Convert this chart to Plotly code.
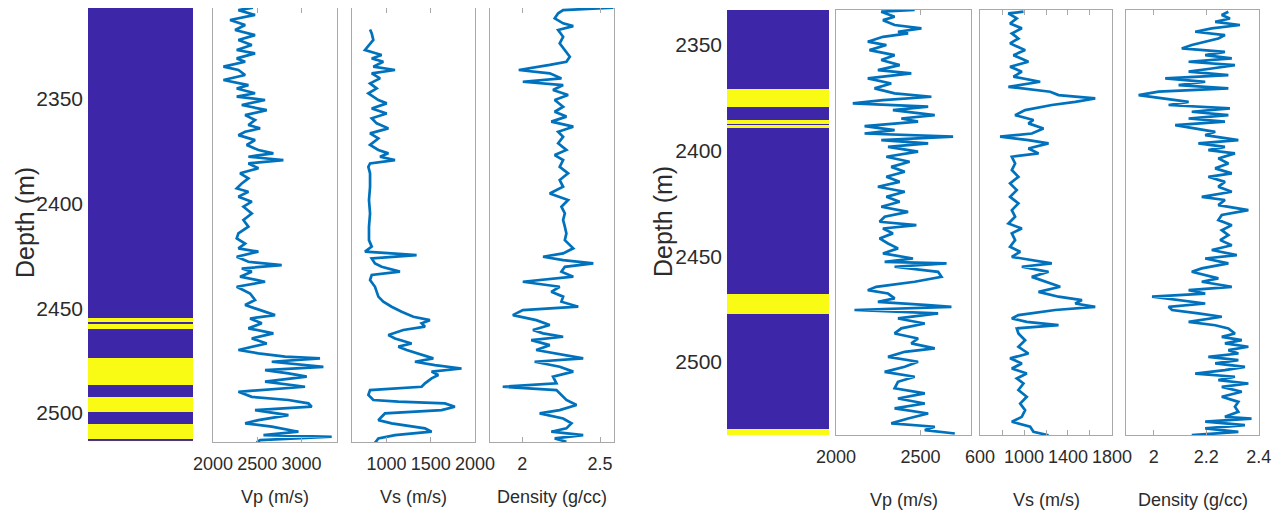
import plotly.graph_objects as go

# ---------------- data ----------------
# Facies columns: interval edges (depth, m) and facies code (0 = shale/blue, 1 = sand/yellow)
LEFT_FACIES_EDGES = [2306.2, 2454.6, 2456.5, 2457.4, 2459.8, 2473.6, 2486.5, 2492.2, 2499.3, 2505.0, 2512.2, 2513.3]
LEFT_FACIES_CODES = [0, 1, 0, 1, 0, 1, 0, 1, 0, 1, 0]
RIGHT_FACIES_EDGES = [2333.4, 2370.6, 2379.4, 2385.7, 2387.2, 2388.0, 2389.3, 2467.8, 2477.3, 2531.8, 2534.7]
RIGHT_FACIES_CODES = [0, 1, 0, 1, 0, 1, 0, 1, 0, 1]

# Logs as (depth m, value)
LEFT_VP = [(2306.5, 2450), (2307.7, 2286), (2310.0, 2474), (2312.4, 2192), (2314.8, 2362), (2317.2, 2249), (2319.6, 2474), (2321.9, 2286), (2324.3, 2437), (2326.7, 2267), (2328.3, 2474), (2330.7, 2267), (2332.3, 2362), (2334.6, 2117), (2336.2, 2286), (2338.6, 2362), (2341.0, 2117), (2343.4, 2399), (2345.0, 2267), (2347.3, 2474), (2348.9, 2267), (2350.5, 2587), (2352.9, 2324), (2355.3, 2606), (2357.7, 2362), (2360.0, 2474), (2362.4, 2399), (2364.0, 2531), (2365.6, 2362), (2367.2, 2286), (2369.6, 2474), (2371.9, 2380), (2374.3, 2512), (2375.9, 2681), (2377.5, 2399), (2379.1, 2794), (2380.7, 2399), (2383.0, 2512), (2385.4, 2305), (2387.8, 2399), (2390.2, 2324), (2392.6, 2267), (2394.2, 2399), (2396.5, 2286), (2398.9, 2437), (2401.3, 2343), (2404.5, 2437), (2407.6, 2343), (2410.8, 2399), (2414.0, 2286), (2416.4, 2267), (2418.8, 2362), (2421.1, 2286), (2422.7, 2512), (2425.1, 2267), (2427.5, 2399), (2429.1, 2775), (2430.7, 2324), (2432.2, 2437), (2434.6, 2305), (2437.0, 2587), (2439.4, 2267), (2442.6, 2418), (2445.7, 2474), (2448.1, 2362), (2450.5, 2531), (2452.9, 2700), (2454.5, 2418), (2456.8, 2550), (2459.2, 2399), (2461.6, 2681), (2464.0, 2437), (2466.4, 2606), (2469.5, 2286), (2471.1, 2512), (2472.7, 2813), (2473.5, 3208), (2475.1, 2663), (2477.5, 3246), (2479.1, 2587), (2480.6, 2851), (2482.2, 3058), (2484.6, 2587), (2487.0, 3039), (2489.4, 2286), (2491.8, 2437), (2493.3, 2851), (2494.9, 3077), (2496.5, 3114), (2498.1, 2474), (2500.5, 2851), (2502.9, 2512), (2504.4, 2362), (2506.0, 2663), (2508.4, 2964), (2510.0, 2569), (2510.8, 3340), (2512.4, 2531), (2513.5, 2493)]

LEFT_VS = [(2316.9, 814), (2318.8, 833), (2321.9, 851), (2326.7, 757), (2329.1, 945), (2330.7, 833), (2332.3, 964), (2334.6, 851), (2336.2, 1096), (2337.8, 833), (2340.2, 927), (2342.6, 814), (2345.0, 889), (2347.3, 795), (2350.5, 908), (2352.1, 1002), (2354.5, 833), (2356.9, 1002), (2359.2, 833), (2361.6, 889), (2364.0, 1021), (2366.4, 814), (2368.8, 908), (2371.9, 814), (2374.3, 908), (2375.9, 1021), (2377.5, 927), (2379.1, 1096), (2380.7, 814), (2382.3, 795), (2385.4, 814), (2391.8, 814), (2398.1, 802), (2404.5, 814), (2410.8, 802), (2417.2, 802), (2420.3, 833), (2422.7, 757), (2423.5, 1058), (2424.3, 1340), (2425.9, 833), (2428.3, 870), (2429.9, 945), (2432.2, 1152), (2433.8, 833), (2436.2, 814), (2439.4, 870), (2441.8, 889), (2444.1, 908), (2446.5, 964), (2448.9, 1058), (2451.3, 1171), (2453.7, 1303), (2455.3, 1491), (2456.8, 1397), (2458.4, 1435), (2460.0, 1190), (2462.4, 1021), (2464.0, 1096), (2466.4, 1284), (2467.9, 1134), (2469.5, 1228), (2471.1, 1359), (2473.5, 1529), (2475.1, 1322), (2476.7, 1547), (2478.3, 1848), (2479.8, 1510), (2481.4, 1585), (2483.0, 1510), (2485.4, 1435), (2487.0, 1397), (2488.6, 814), (2490.9, 795), (2493.3, 851), (2494.1, 1134), (2494.9, 1660), (2496.5, 1773), (2498.1, 1623), (2499.7, 983), (2501.3, 945), (2502.9, 908), (2504.4, 1058), (2506.8, 1435), (2508.4, 1510), (2510.0, 1096), (2511.6, 908), (2513.7, 870)]

LEFT_DEN = [(2306.5, 2.586), (2307.7, 2.263), (2309.2, 2.231), (2311.6, 2.209), (2314.0, 2.263), (2315.3, 2.328), (2317.2, 2.231), (2320.4, 2.263), (2323.5, 2.241), (2326.7, 2.274), (2329.9, 2.306), (2332.3, 2.284), (2333.8, 2.177), (2336.2, 1.978), (2337.8, 2.177), (2340.2, 2.252), (2341.8, 2.004), (2343.4, 2.263), (2345.7, 2.198), (2348.1, 2.295), (2350.5, 2.209), (2353.7, 2.263), (2356.1, 2.209), (2358.4, 2.284), (2360.8, 2.187), (2363.2, 2.328), (2365.6, 2.231), (2368.0, 2.263), (2371.1, 2.231), (2374.3, 2.284), (2376.7, 2.209), (2379.1, 2.263), (2382.3, 2.241), (2385.4, 2.295), (2388.6, 2.241), (2391.8, 2.263), (2395.0, 2.177), (2398.1, 2.295), (2401.3, 2.252), (2404.5, 2.274), (2407.6, 2.263), (2410.8, 2.274), (2414.0, 2.284), (2417.2, 2.274), (2421.1, 2.328), (2423.5, 2.263), (2425.1, 2.134), (2426.7, 2.263), (2428.3, 2.457), (2429.9, 2.274), (2432.2, 2.252), (2434.6, 2.328), (2437.0, 2.004), (2439.4, 2.241), (2441.8, 2.187), (2444.1, 2.263), (2446.5, 2.252), (2448.9, 2.360), (2450.5, 2.004), (2452.9, 1.940), (2455.3, 2.090), (2457.6, 2.177), (2460.0, 2.069), (2461.6, 2.134), (2463.2, 2.263), (2464.8, 2.058), (2467.2, 2.177), (2469.5, 2.090), (2471.9, 2.263), (2473.5, 2.392), (2475.1, 2.080), (2477.5, 2.241), (2479.8, 2.328), (2482.2, 2.198), (2485.4, 2.220), (2487.0, 1.875), (2488.6, 2.220), (2490.9, 2.252), (2493.3, 2.284), (2495.7, 2.349), (2498.1, 2.241), (2499.7, 2.112), (2502.1, 2.263), (2504.4, 2.317), (2506.8, 2.284), (2508.4, 2.187), (2510.0, 2.392), (2511.6, 2.209), (2513.2, 2.284)]

RIGHT_VP = [(2333.4, 2466), (2334.2, 2268), (2336.6, 2347), (2338.2, 2278), (2340.5, 2347), (2342.1, 2506), (2343.7, 2367), (2344.5, 2427), (2346.1, 2278), (2348.4, 2188), (2350.0, 2298), (2352.4, 2198), (2354.8, 2347), (2357.1, 2268), (2359.5, 2377), (2361.9, 2248), (2363.4, 2446), (2365.8, 2188), (2368.2, 2327), (2370.5, 2228), (2372.9, 2347), (2374.5, 2565), (2376.1, 2278), (2377.6, 2099), (2379.2, 2546), (2380.8, 2337), (2383.2, 2585), (2384.8, 2387), (2386.3, 2486), (2388.4, 2169), (2390.3, 2347), (2391.9, 2169), (2393.4, 2694), (2395.0, 2268), (2396.6, 2546), (2398.2, 2308), (2400.5, 2486), (2402.9, 2298), (2405.3, 2436), (2407.7, 2327), (2410.0, 2407), (2412.4, 2298), (2414.8, 2377), (2417.1, 2248), (2419.5, 2407), (2421.9, 2298), (2424.2, 2377), (2426.6, 2268), (2429.0, 2427), (2431.3, 2288), (2433.7, 2258), (2435.3, 2476), (2436.9, 2278), (2439.2, 2337), (2441.6, 2258), (2444.0, 2308), (2446.3, 2367), (2448.7, 2278), (2451.1, 2456), (2452.7, 2288), (2453.4, 2655), (2455.0, 2347), (2457.4, 2605), (2459.8, 2625), (2462.1, 2466), (2464.5, 2238), (2466.1, 2188), (2467.7, 2308), (2470.0, 2347), (2471.6, 2248), (2473.2, 2546), (2474.0, 2684), (2475.5, 2109), (2477.1, 2605), (2479.5, 2367), (2481.9, 2526), (2484.2, 2387), (2486.6, 2347), (2489.0, 2486), (2491.3, 2446), (2493.7, 2585), (2495.3, 2407), (2497.7, 2308), (2500.0, 2486), (2502.4, 2407), (2504.8, 2288), (2507.1, 2466), (2509.5, 2367), (2512.6, 2347), (2515.0, 2526), (2517.4, 2367), (2519.8, 2526), (2522.1, 2347), (2524.5, 2546), (2526.9, 2427), (2529.2, 2327), (2530.8, 2585), (2532.4, 2526), (2534.0, 2704)]

RIGHT_VS = [(2334.2, 995), (2335.0, 858), (2337.4, 934), (2339.8, 873), (2342.1, 980), (2344.5, 889), (2346.9, 949), (2349.2, 873), (2352.4, 1010), (2354.8, 904), (2357.9, 1040), (2360.3, 873), (2362.6, 980), (2365.0, 904), (2367.4, 1147), (2369.8, 858), (2372.1, 1238), (2373.7, 1314), (2375.3, 1648), (2376.9, 1466), (2378.4, 1253), (2380.8, 1010), (2383.2, 919), (2385.5, 1086), (2387.1, 1040), (2389.5, 1177), (2391.9, 1071), (2393.4, 782), (2395.0, 1040), (2396.6, 1223), (2399.0, 1040), (2401.3, 1132), (2402.9, 889), (2406.1, 919), (2409.2, 889), (2412.4, 949), (2415.5, 873), (2418.7, 934), (2421.9, 873), (2425.0, 949), (2428.2, 889), (2431.3, 919), (2434.5, 858), (2436.9, 980), (2439.2, 889), (2442.4, 919), (2445.5, 873), (2447.9, 965), (2450.3, 889), (2453.4, 1253), (2455.0, 980), (2457.4, 1223), (2459.8, 1071), (2462.1, 1192), (2464.5, 1329), (2466.9, 1132), (2469.2, 1314), (2470.8, 1527), (2472.4, 1466), (2474.0, 1648), (2475.5, 1284), (2477.9, 949), (2479.5, 889), (2481.1, 1025), (2482.7, 1314), (2484.2, 934), (2486.6, 949), (2489.8, 1010), (2492.9, 949), (2496.1, 1040), (2498.4, 873), (2500.8, 980), (2503.2, 889), (2505.6, 1025), (2507.9, 934), (2510.3, 995), (2513.4, 949), (2516.6, 1025), (2519.8, 965), (2522.9, 1010), (2526.1, 980), (2528.4, 889), (2530.8, 1056), (2533.2, 1086), (2534.8, 1223)]

RIGHT_DEN = [(2334.2, 2.284), (2335.8, 2.259), (2337.4, 2.290), (2339.0, 2.234), (2340.5, 2.328), (2342.1, 2.221), (2343.7, 2.158), (2345.3, 2.271), (2346.9, 2.246), (2348.4, 2.196), (2350.0, 2.145), (2351.6, 2.107), (2353.2, 2.271), (2354.8, 2.196), (2356.3, 2.297), (2357.9, 2.133), (2359.5, 2.309), (2361.1, 2.221), (2362.6, 2.133), (2364.2, 2.284), (2365.8, 2.044), (2367.4, 2.196), (2369.0, 2.095), (2370.5, 2.284), (2372.1, 2.019), (2373.7, 1.943), (2375.3, 2.044), (2376.9, 2.133), (2378.4, 2.057), (2380.0, 2.290), (2381.6, 2.145), (2383.2, 2.284), (2384.8, 2.133), (2386.3, 2.271), (2387.9, 2.082), (2389.5, 2.158), (2391.1, 2.234), (2392.7, 2.196), (2395.0, 2.322), (2396.6, 2.170), (2398.2, 2.271), (2399.8, 2.208), (2401.3, 2.309), (2403.7, 2.246), (2406.1, 2.284), (2408.4, 2.234), (2410.8, 2.297), (2412.4, 2.208), (2414.8, 2.271), (2417.1, 2.246), (2419.5, 2.297), (2421.9, 2.183), (2423.4, 2.271), (2425.8, 2.246), (2428.2, 2.360), (2430.5, 2.259), (2432.9, 2.246), (2435.3, 2.297), (2437.7, 2.259), (2440.0, 2.284), (2442.4, 2.253), (2444.8, 2.297), (2447.1, 2.221), (2449.5, 2.316), (2451.1, 2.196), (2453.4, 2.284), (2455.8, 2.183), (2457.4, 2.145), (2459.0, 2.196), (2460.5, 2.246), (2462.1, 2.183), (2464.5, 2.297), (2466.1, 2.133), (2467.7, 2.196), (2469.2, 1.994), (2470.8, 2.107), (2472.4, 2.196), (2474.0, 2.057), (2475.5, 2.070), (2477.1, 2.170), (2478.7, 2.259), (2481.1, 2.133), (2482.7, 2.234), (2484.2, 2.284), (2486.6, 2.309), (2488.2, 2.259), (2489.8, 2.335), (2491.3, 2.271), (2492.9, 2.360), (2494.5, 2.284), (2496.1, 2.322), (2497.7, 2.208), (2499.2, 2.322), (2500.8, 2.234), (2502.4, 2.347), (2504.0, 2.271), (2505.6, 2.158), (2507.1, 2.309), (2508.7, 2.246), (2510.3, 2.360), (2511.9, 2.259), (2514.2, 2.335), (2516.6, 2.259), (2519.0, 2.322), (2521.3, 2.309), (2523.7, 2.322), (2526.1, 2.271), (2526.9, 2.372), (2528.4, 2.196), (2530.0, 2.347), (2531.6, 2.196), (2533.2, 2.322), (2534.8, 2.145)]

DEPTH_TICKS = [2350, 2400, 2450, 2500]
TITLES = ["Vp (m/s)", "Vs (m/s)", "Density (g/cc)"]

# ---------------- layout / style ----------------
PAGE_W, PAGE_H = 1281, 521
OFF = 8                       # default page margin of the html body
W, H = PAGE_W - OFF, PAGE_H - OFF
BLUE, YELLOW = "#3E26A8", "#F9FB15"
LINE = "#0072BD"
BOX = "#a8a8a8"
TXT = "#2b2b2b"
FONT = "Liberation Sans, Arial, sans-serif"


def xd(a, b):
    return [(a - OFF) / W, (b - OFF) / W]


def yd(top, bot):
    top = max(top, OFF)
    return [1 - (bot - OFF) / H, 1 - (top - OFF) / H]


def px(x):
    return (x - OFF) / W


def py(y):
    return 1 - (y - OFF) / H


fig = go.Figure()
layout = dict(
    width=W, height=H, margin=dict(l=0, r=0, t=0, b=0, autoexpand=False),
    paper_bgcolor="white", plot_bgcolor="white", showlegend=False,
    annotations=[],
)

panels = [
    dict(edges=LEFT_FACIES_EDGES, codes=LEFT_FACIES_CODES, yr=[2513.3, 2306.7],
         fac_px=(88, 193, 8, 441), trk_y=(8, 442),
         tracks=[(LEFT_VP, (213, 337), [1999, 3400], [2000, 2500, 3000], None),
                 (LEFT_VS, (352, 475), [610, 2000.5], [1000, 1500, 2000], None),
                 (LEFT_DEN, (490, 614), [1.793, 2.59], [2, 2.5], ["2", "2.5"])],
         depth_lbl=(25, 223), title_y=497),
    dict(edges=RIGHT_FACIES_EDGES, codes=RIGHT_FACIES_CODES, yr=[2534.7, 2333.4],
         fac_px=(727, 829, 10, 435), trk_y=(10, 435),
         tracks=[(RIGHT_VP, (836, 971), [1999.5, 2800], [2000, 2500], None),
                 (RIGHT_VS, (980, 1112), [599.5, 1800.5], [600, 800, 1000, 1200, 1400, 1600, 1800],
                  ["600", "", "1000", "", "1400", "", "1800"]),
                 (RIGHT_DEN, (1126, 1259), [1.895, 2.4005], [2, 2.2, 2.4], ["2", "2.2", "2.4"])],
         depth_lbl=(663, 222), title_y=500),
]

n = 0
for p in panels:
    n += 1
    k = "" if n == 1 else str(n)
    fx0, fx1, fy0, fy1 = p["fac_px"]
    fig.add_trace(go.Heatmap(
        z=[[c] for c in p["codes"]], x=[0, 1], y=p["edges"],
        colorscale=[[0, BLUE], [1, YELLOW]], zmin=0, zmax=1, showscale=False,
        hoverinfo="skip", xaxis="x" + k, yaxis="y" + k))
    layout["xaxis" + k] = dict(domain=xd(fx0, fx1), range=[0, 1], visible=False,
                               anchor="y" + k, fixedrange=True, automargin=False)
    layout["yaxis" + k] = dict(domain=yd(fy0, fy1), range=p["yr"], anchor="x" + k,
                               tickvals=DEPTH_TICKS, ticks="", showline=False,
                               showgrid=False, zeroline=False, automargin=False,
                               tickfont=dict(family=FONT, size=21, color=TXT),
                               ticklabelstandoff=4)
    layout["annotations"].append(dict(
        text="Depth (m)", x=px(p["depth_lbl"][0]), y=py(p["depth_lbl"][1]),
        xref="paper", yref="paper", showarrow=False, textangle=-90,
        xanchor="center", yanchor="middle",
        font=dict(family=FONT, size=25, color=TXT)))
    for (data, (x0, x1), xr, tv, tt), title in zip(p["tracks"], TITLES):
        n += 1
        k = str(n)
        depths = [d for d, v in data]
        vals = [v for d, v in data]
        fig.add_trace(go.Scatter(x=vals, y=depths, mode="lines",
                                 line=dict(color=LINE, width=2.7),
                                 hoverinfo="skip", xaxis="x" + k, yaxis="y" + k))
        xa = dict(domain=xd(x0, x1), range=xr, anchor="y" + k, tickvals=tv,
                  ticks="inside", ticklen=5, tickcolor=BOX, showline=True,
                  linecolor=BOX, linewidth=1, mirror="ticks", showgrid=False,
                  zeroline=False, automargin=False, tickangle=0,
                  tickfont=dict(family=FONT, size=18, color=TXT),
                  ticklabelstandoff=5)
        if tt is not None:
            xa["ticktext"] = tt
        layout["xaxis" + k] = xa
        layout["yaxis" + k] = dict(domain=yd(*p["trk_y"]), range=p["yr"], anchor="x" + k,
                                   showticklabels=False, ticks="", showline=True,
                                   linecolor=BOX, linewidth=1, mirror=True,
                                   showgrid=False, zeroline=False, automargin=False)
        layout["annotations"].append(dict(
            text=title, x=px((x0 + x1) / 2), y=py(p["title_y"]),
            xref="paper", yref="paper", showarrow=False,
            xanchor="center", yanchor="middle",
            font=dict(family=FONT, size=18, color=TXT)))

fig.update_layout(**layout)
fig.write_html("out.html")
